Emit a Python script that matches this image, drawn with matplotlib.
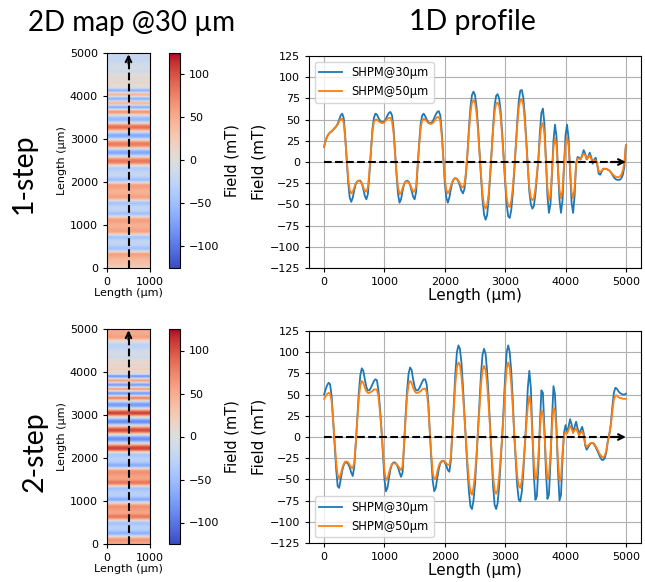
import matplotlib
matplotlib.use('Agg')
import matplotlib.pyplot as plt
import numpy as np

# ---------------- data ----------------
length_um = list(range(0, 5001, 25))

one_step_30 = [
    18, 25, 30, 33, 35, 36, 38, 40, 42, 45, 50, 55, 57, 52, 30, 2, -25, -42, -47, -42,
    -33, -26, -23, -22, -22, -25, -32, -40, -44, -38, -15, 12, 38, 52, 57, 56, 52, 49, 47, 47,
    48, 51, 55, 58, 59, 55, 40, 12, -15, -38, -48, -44, -34, -26, -23, -22, -23, -27, -34, -41,
    -44, -35, -5, 22, 45, 55, 57, 54, 50, 47, 46, 46, 48, 52, 56, 59, 60, 55, 35, 5,
    -25, -42, -48, -42, -32, -24, -20, -19, -20, -23, -28, -34, -37, -32, -15, 10, 40, 65, 79, 83,
    79, 65, 42, 12, -18, -45, -62, -68, -63, -45, -18, 12, 42, 66, 78, 80, 75, 60, 35, 5,
    -25, -50, -64, -66, -57, -38, -12, 18, 48, 72, 84, 85, 76, 55, 25, -7, -35, -50, -55, -52,
    -38, -18, 3, 35, 58, 63, 45, 2, -40, -60, -50, -15, 25, 44, 30, -10, -45, -60, -45, -5,
    32, 44, 28, -10, -48, -60, -40, -2, 6, 5, 3, 8, 14, 10, 3, 6, 11, 6, -2, 3,
    5, -3, -14, -15, -11, -8, -8, -8, -9, -10, -12, -15, -18, -20, -21, -21, -21, -19, -15, -5,
    20]

one_step_50 = [
    18, 25, 30, 33, 35, 36, 38, 40, 42, 44, 48, 51, 51, 46, 28, 3, -20, -33, -37, -35,
    -30, -25, -23, -22, -23, -25, -30, -34, -35, -30, -12, 12, 35, 47, 50, 50, 48, 47, 46, 46,
    47, 49, 51, 52, 52, 48, 35, 10, -13, -30, -38, -36, -31, -26, -23, -23, -24, -27, -31, -35,
    -35, -28, -5, 20, 40, 49, 51, 50, 48, 46, 45, 45, 46, 48, 51, 53, 53, 48, 30, 5,
    -20, -33, -37, -34, -28, -23, -20, -19, -20, -22, -25, -29, -30, -26, -12, 10, 36, 58, 70, 73,
    70, 58, 37, 10, -15, -38, -51, -55, -51, -38, -15, 11, 38, 59, 69, 70, 66, 53, 30, 4,
    -21, -42, -52, -53, -46, -31, -9, 17, 43, 64, 73, 74, 67, 48, 22, -6, -30, -42, -45, -43,
    -32, -15, 3, 28, 43, 46, 33, 2, -30, -45, -40, -12, 17, 28, 20, -8, -33, -43, -33, -3,
    21, 29, 19, -8, -35, -43, -30, -2, 4, 4, 3, 7, 10, 8, 4, 5, 8, 4, 0, 2,
    2, -3, -11, -12, -10, -8, -8, -8, -9, -10, -12, -14, -16, -17, -18, -18, -17, -15, -10, 0,
    20]

two_step_30 = [
    50, 56, 61, 64, 62, 48, 20, -8, -38, -58, -60, -50, -40, -33, -30, -30, -32, -36, -42, -46,
    -35, -8, 22, 52, 73, 81, 78, 68, 59, 55, 55, 58, 62, 66, 68, 67, 55, 35, 10, -20,
    -50, -64, -60, -48, -38, -32, -30, -30, -32, -36, -42, -47, -42, -10, 25, 55, 75, 82, 79, 68,
    59, 55, 55, 57, 61, 65, 68, 68, 62, 42, 8, -25, -52, -64, -60, -48, -38, -31, -29, -28,
    -30, -34, -39, -41, -28, 5, 40, 75, 100, 108, 104, 88, 60, 28, -5, -38, -65, -82, -85, -75,
    -55, -25, 8, 42, 75, 97, 104, 98, 78, 48, 12, -25, -58, -80, -85, -78, -58, -30, 0, 35,
    72, 100, 108, 100, 78, 45, 3, -28, -58, -74, -76, -65, -42, -12, 20, 58, 78, 58, 5, -45,
    -74, -70, -35, 15, 55, 52, 10, -40, -73, -68, -30, 20, 60, 50, 10, -40, -75, -68, -25, 5,
    14, 6, 12, 21, 15, 5, 12, 18, 10, 3, 8, 12, 5, -10, -15, -12, -9, -7, -7, -9,
    -12, -16, -20, -24, -27, -27, -25, -18, -5, 3, 15, 35, 52, 58, 57, 54, 52, 51, 50, 50,
    51]

two_step_50 = [
    45, 48, 51, 52, 51, 42, 20, -5, -30, -45, -49, -44, -37, -32, -29, -29, -30, -33, -36, -37,
    -30, -7, 20, 45, 61, 66, 64, 58, 54, 52, 52, 53, 54, 56, 56, 56, 48, 30, 8, -17,
    -40, -51, -49, -42, -36, -32, -31, -31, -32, -34, -37, -39, -34, -8, 22, 48, 62, 66, 64, 58,
    54, 52, 52, 53, 54, 56, 57, 57, 53, 37, 7, -20, -42, -50, -49, -41, -34, -30, -28, -28,
    -29, -31, -33, -33, -23, 5, 35, 63, 82, 88, 85, 72, 50, 23, -4, -30, -52, -65, -68, -60,
    -44, -20, 7, 35, 62, 79, 84, 79, 63, 38, 10, -20, -46, -63, -67, -62, -46, -24, 0, 28,
    59, 81, 88, 82, 63, 36, 3, -23, -46, -58, -60, -52, -34, -10, 14, 36, 48, 38, 5, -30,
    -50, -46, -22, 10, 31, 29, 5, -28, -50, -46, -20, 12, 34, 31, 7, -28, -52, -48, -18, 2,
    6, 4, 8, 13, 10, 5, 8, 10, 6, 2, 5, 7, 2, -8, -12, -10, -8, -7, -7, -8,
    -11, -14, -18, -21, -23, -24, -22, -16, -5, 3, 14, 30, 44, 49, 49, 47, 46, 46, 45, 45,
    45]

map_width_um = [0, 1000]
scan_x_um = 500
field_limits = [-125, 125]
cbar_ticks = [-100, -50, 0, 50, 100]
field_ticks = list(range(-125, 126, 25))
length_ticks = [0, 1000, 2000, 3000, 4000, 5000]
series_labels = ['SHPM@30µm', 'SHPM@50µm']
row_labels = ['1-step', '2-step']
col_titles = ['2D map @30 µm', '1D profile']

# ---------------- figure ----------------
fig = plt.figure(figsize=(6.45, 5.82), dpi=100)
W, H = 645.0, 582.0

def box(l, t, r, b):
    return [l / W, 1 - b / H, (r - l) / W, (b - t) / H]

rows = [
    dict(y30=one_step_30, y50=one_step_50, top=53, bot=268, ltop=56, lbot=268, loc='upper left'),
    dict(y30=two_step_30, y50=two_step_50, top=329, bot=544, ltop=331, lbot=543, loc='lower left'),
]

x = np.array(length_um)
for r in rows:
    # 2D map
    axm = fig.add_axes(box(107, r['top'], 150, r['bot']))
    img = np.tile(np.array(r['y30'], dtype=float)[:, None], (1, 2))
    im = axm.imshow(img, extent=[map_width_um[0], map_width_um[1], x[0], x[-1]],
                    origin='lower', aspect='auto', cmap='coolwarm',
                    vmin=field_limits[0], vmax=field_limits[1], interpolation='bilinear')
    axm.plot([scan_x_um, scan_x_um], [x[0], x[-1] - 80], 'k--', lw=1.5)
    axm.annotate('', xy=(scan_x_um, x[-1] - 30), xytext=(scan_x_um, x[-1] - 250),
                 arrowprops=dict(arrowstyle='->', lw=1.5, color='k', shrinkA=0, shrinkB=0))
    axm.set_xticks(map_width_um)
    axm.set_yticks(length_ticks)
    axm.set_xlim(map_width_um)
    axm.set_ylim(x[0], x[-1])
    axm.tick_params(labelsize=8, length=3)
    axm.set_xlabel('Length (µm)', fontsize=8, labelpad=1)
    axm.set_ylabel('Length (µm)', fontsize=8, labelpad=2)

    cax = fig.add_axes(box(169, r['top'], 180, r['bot']))
    cb = fig.colorbar(im, cax=cax, ticks=cbar_ticks)
    cb.ax.tick_params(labelsize=8, length=3)
    cb.set_label('Field (mT)', fontsize=10.5)

    # 1D profile
    ax = fig.add_axes(box(309, r['ltop'], 641, r['lbot']))
    ax.plot(x, r['y30'], color='#1f77b4', lw=1.3, label=series_labels[0])
    ax.plot(x, r['y50'], color='#ff7f0e', lw=1.3, label=series_labels[1])
    ax.plot([x[0], x[-1] - 80], [0, 0], 'k--', lw=1.5)
    ax.annotate('', xy=(x[-1], 0), xytext=(x[-1] - 250, 0),
                arrowprops=dict(arrowstyle='->', lw=1.5, color='k', shrinkA=0, shrinkB=0))
    ax.set_ylim(field_limits)
    ax.set_yticks(field_ticks)
    ax.set_xticks(length_ticks)
    ax.grid(True, color='#b0b0b0', lw=0.8)
    ax.tick_params(labelsize=8, length=3)
    ax.set_xlabel('Length (µm)', fontsize=11, labelpad=1)
    ax.set_ylabel('Field (mT)', fontsize=11, labelpad=2)
    ax.legend(loc=r['loc'], fontsize=8.3, framealpha=0.8)

fig.text(132 / W, 1 - 23 / H, col_titles[0], ha='center', va='center', fontsize=20, family='Lato')
fig.text(472 / W, 1 - 22 / H, col_titles[1], ha='center', va='center', fontsize=20.5, family='Lato')
fig.text(24 / W, 1 - 174 / H, row_labels[0], ha='center', va='center', rotation=90, fontsize=20.5, family='Lato')
fig.text(35 / W, 1 - 452 / H, row_labels[1], ha='center', va='center', rotation=90, fontsize=20.5, family='Lato')

fig.savefig('out.png', dpi=100)
